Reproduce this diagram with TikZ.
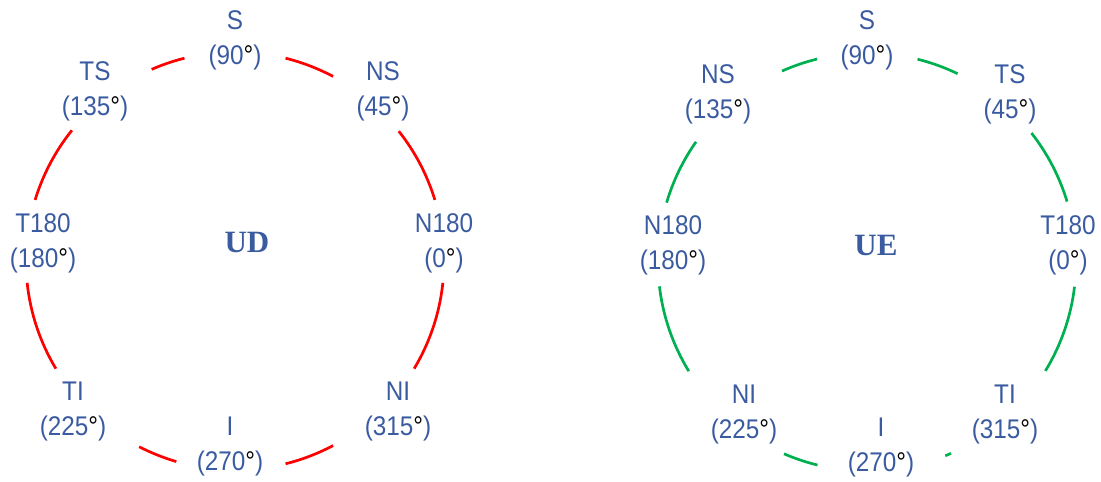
\documentclass[tikz,border=0pt]{standalone}
\usepackage{fontspec}
\setmainfont[FakeStretch=0.9]{Liberation Sans}
\newfontfamily\titlefont{Liberation Serif}
\definecolor{labelblue}{HTML}{3A5BA0}
\definecolor{ringred}{HTML}{FF0000}
\definecolor{ringgreen}{HTML}{00B050}
\newcommand{\dg}{{\color{black}°}}
\tikzset{
  pos label/.style={text=labelblue, align=center, inner sep=0pt,
    font=\fontsize{27}{35}\selectfont},
  ring title/.style={text=labelblue, inner sep=0pt,
    font=\titlefont\bfseries\fontsize{31}{31}\selectfont},
  ring/.style={line width=2.7pt},
}
\begin{document}
\begin{tikzpicture}[x=1pt,y=1pt]
\useasboundingbox (0,0) rectangle (1101,482);

% ---------- left ring: UD ----------
\coordinate (cL) at (235,221);
\foreach \a/\b in {104/113.5, 62/76, 17/38.4, -31/-6, -76/-62,
                   242.7/253.7, 186/211, 141.3/163}{
  \draw[ring, ringred] (cL) ++(\a:209) arc[start angle=\a, end angle=\b, radius=209];
}
\node[pos label] (lS)    at (235,442) {S\\(90\dg)};
\node[pos label] (lTS)   at (95,391)  {TS\\(135\dg)};
\node[pos label] (lNS)   at (383,391) {NS\\(45\dg)};
\node[pos label] (lT180) at (43,239)  {T180\\(180\dg)};
\node[pos label] (lN180) at (444,239) {N180\\(0\dg)};
\node[pos label] (lTI)   at (73,70)   {TI\\(225\dg)};
\node[pos label] (lNI)   at (398,70)  {NI\\(315\dg)};
\node[pos label] (lI)    at (230,35)  {I\\(270\dg)};
\node[ring title] (lUD)  at (247,240) {UD};

% ---------- right ring: UE ----------
\coordinate (cR) at (867,220);
\foreach \a/\b in {103.8/114, 64.3/76, 16.8/38.1, -31.4/-6.8, -68/-66.3,
                   246.6/256.3, 186.7/211.5, 144.9/163.5}{
  \draw[ring, ringgreen] (cR) ++(\a:209) arc[start angle=\a, end angle=\b, radius=209];
}
\node[pos label] (rS)    at (867,442)  {S\\(90\dg)};
\node[pos label] (rNS)   at (718,388)  {NS\\(135\dg)};
\node[pos label] (rTS)   at (1010,388) {TS\\(45\dg)};
\node[pos label] (rN180) at (673,237)  {N180\\(180\dg)};
\node[pos label] (rT180) at (1068,237) {T180\\(0\dg)};
\node[pos label] (rNI)   at (744,67)   {NI\\(225\dg)};
\node[pos label] (rTI)   at (1005,67)  {TI\\(315\dg)};
\node[pos label] (rI)    at (881,34)   {I\\(270\dg)};
\node[ring title] (rUE)  at (876,237)  {UE};
\end{tikzpicture}
\end{document}
